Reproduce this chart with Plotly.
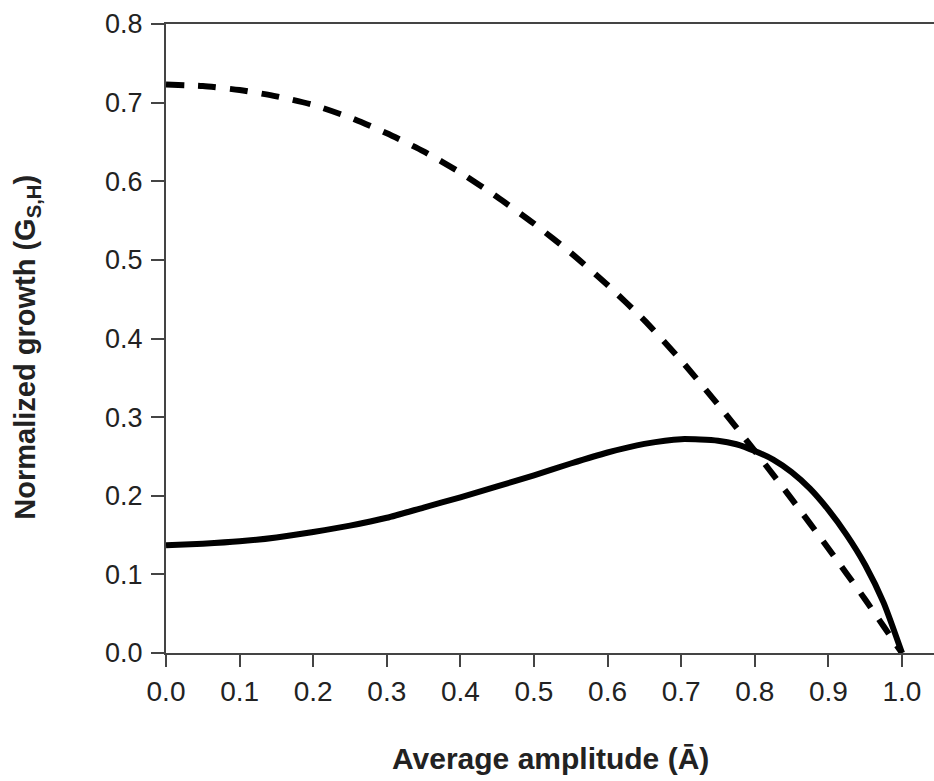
import plotly.graph_objects as go

# Solid curve
solid_x = [0.0, 0.05, 0.1, 0.15, 0.2, 0.25, 0.3, 0.35, 0.4, 0.45, 0.5, 0.55, 0.6, 0.65, 0.7, 0.75, 0.775, 0.8, 0.825, 0.85, 0.875, 0.9, 0.925, 0.95, 0.975, 1.0]
solid_y = [0.137, 0.139, 0.142, 0.147, 0.154, 0.162, 0.172, 0.185, 0.198, 0.212, 0.226, 0.241, 0.255, 0.266, 0.272, 0.270, 0.2655, 0.257, 0.246, 0.230, 0.209, 0.182, 0.150, 0.112, 0.064, 0.0]

# Dashed curve
dash_x = [0.0, 0.05, 0.1, 0.15, 0.2, 0.25, 0.3, 0.35, 0.4, 0.45, 0.5, 0.55, 0.6, 0.65, 0.7, 0.75, 0.8, 0.85, 0.9, 0.95, 0.975, 1.0]
dash_y = [0.723, 0.721, 0.716, 0.708, 0.697, 0.681, 0.661, 0.638, 0.611, 0.580, 0.546, 0.509, 0.468, 0.423, 0.372, 0.316, 0.257, 0.196, 0.133, 0.068, 0.034, 0.0]

tick_vals_x = [0.0, 0.1, 0.2, 0.3, 0.4, 0.5, 0.6, 0.7, 0.8, 0.9, 1.0]
tick_vals_y = [0.0, 0.1, 0.2, 0.3, 0.4, 0.5, 0.6, 0.7, 0.8]

x_title = "Average amplitude (Ā)"
y_title = "Normalized growth (G<sub>S,H</sub>)"

fig = go.Figure()
fig.add_trace(go.Scatter(x=dash_x, y=dash_y, mode="lines",
                         line=dict(color="black", width=6, dash="18px,14px", shape="spline", smoothing=0.6),
                         showlegend=False, hoverinfo="skip"))
fig.add_trace(go.Scatter(x=solid_x, y=solid_y, mode="lines",
                         line=dict(color="black", width=6, shape="spline", smoothing=0.6),
                         showlegend=False, hoverinfo="skip"))

fam = "Liberation Sans, Arial, sans-serif"

fig.update_layout(
    width=934, height=781,
    margin=dict(l=166, r=0, t=24, b=128),
    paper_bgcolor="white", plot_bgcolor="white",
    xaxis=dict(range=[0, 1.0435], tickvals=tick_vals_x, tickformat=".1f",
               showgrid=False, zeroline=False, showline=True, linecolor="#444", linewidth=2,
               mirror=True, ticks="outside", ticklen=12, tickwidth=2, tickcolor="#444",
               tickfont=dict(family=fam, size=28, color="#222"), ticklabelstandoff=0),
    yaxis=dict(range=[0, 0.8], tickvals=tick_vals_y, tickformat=".1f",
               showgrid=False, zeroline=False, showline=True, linecolor="#444", linewidth=2,
               ticks="outside", ticklen=13, tickwidth=2, tickcolor="#444",
               tickfont=dict(family=fam, size=27, color="#222"), ticklabelstandoff=3),
    annotations=[
        dict(text="<b>" + x_title + "</b>", xref="paper", yref="paper", x=0.5, y=-0.168,
             xanchor="center", yanchor="middle", showarrow=False,
             font=dict(family=fam, size=30, color="#222")),
        dict(text="<b>" + y_title + "</b>", xref="paper", yref="paper", x=-0.181, y=0.487,
             xanchor="center", yanchor="middle", showarrow=False, textangle=-90,
             font=dict(family=fam, size=29, color="#222")),
    ],
)

# Remove the default page margin and scrollbars so the 934x781 figure fills the window.
fig.write_html(
    "out.html",
    config={"displayModeBar": False},
    post_script=(
        "document.documentElement.style.overflow='hidden';"
        "document.body.style.overflow='hidden';"
        "document.body.style.margin='0px';"
    ),
)
